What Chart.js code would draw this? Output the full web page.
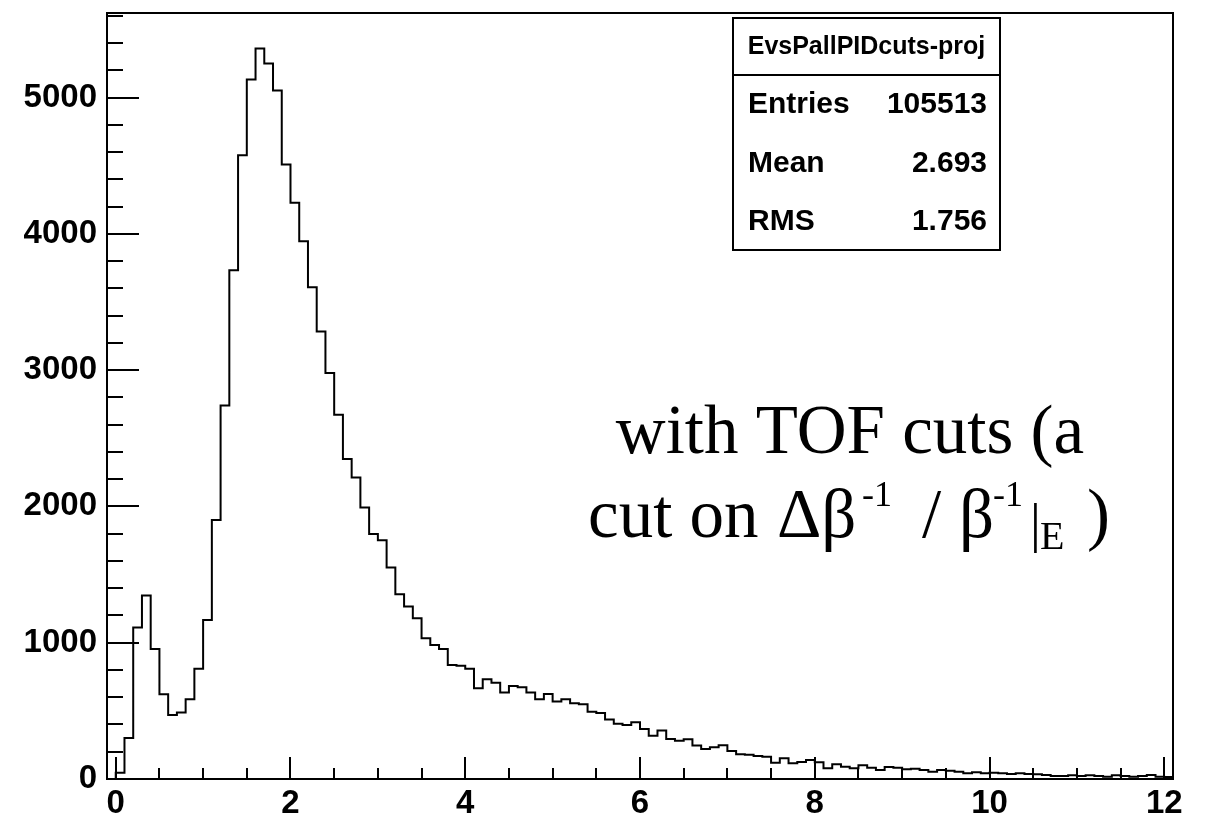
<!DOCTYPE html>
<html>
<head>
<meta charset="utf-8">
<script src="https://cdn.jsdelivr.net/npm/chart.js@4/dist/chart.umd.min.js"></script>
<style>
  html, body { margin: 0; padding: 0; background: #fff; }
  #wrap { width: 1213px; height: 816px; position: relative; }
</style>
</head>
<body>
<div id="wrap"><canvas id="histChart"></canvas></div>
<script>
'use strict';

// histogram: low edge of first bin, bin width, bin contents
var binLow = -0.1;
var binWidth = 0.1;
var counts = [
  0, 46, 300, 1111, 1346, 954, 622, 470, 487, 585,
  808, 1167, 1900, 2740, 3732, 4576, 5132, 5360, 5250, 5051,
  4508, 4227, 3945, 3607, 3284, 2979, 2672, 2347, 2212, 1992,
  1797, 1752, 1551, 1356, 1265, 1180, 1033, 984, 954, 837,
  830, 808, 666, 732, 707, 634, 683, 673, 634, 585,
  624, 568, 585, 556, 548, 494, 485, 436, 405, 396,
  416, 367, 318, 355, 294, 281, 291, 245, 220, 233,
  247, 206, 181, 178, 169, 164, 120, 152, 115, 125,
  139, 123, 79, 108, 90, 79, 101, 83, 66, 88,
  83, 71, 76, 66, 54, 66, 61, 54, 42, 49,
  42, 46, 42, 37, 42, 37, 34, 29, 22, 22,
  27, 22, 27, 22, 17, 27, 22, 17, 22, 29,
  17, 15
];

var xTicks = [0, 2, 4, 6, 8, 10, 12];
var yTicks = [0, 1000, 2000, 3000, 4000, 5000];

var statTitle = 'EvsPallPIDcuts-proj';
var statLabels = ['Entries', 'Mean', 'RMS'];
var statValues = ['105513', '2.693', '1.756'];

var noteLine1 = 'with TOF cuts (a';

// step points: one per bin low edge, plus closing point at the last upper edge
var points = counts.map(function(c, i) {
  return { x: +(binLow + i * binWidth).toFixed(2), y: c };
});
points.push({ x: +(binLow + counts.length * binWidth).toFixed(2), y: counts[counts.length - 1] });

var rootFrame = {
  id: 'rootFrame',
  afterDraw: function(chart) {
    var ctx = chart.ctx;
    var a = chart.chartArea;
    var xs = chart.scales.x;
    var ys = chart.scales.y;
    ctx.save();
    ctx.strokeStyle = '#000';
    ctx.lineWidth = 2;

    // frame
    ctx.strokeRect(a.left, a.top, a.right - a.left, a.bottom - a.top);

    // ticks drawn inward, ROOT style
    ctx.beginPath();
    var v, p;
    for (v = 0; v <= 12.0001; v += 0.5) {
      p = Math.round(xs.getPixelForValue(v));
      var major = Math.abs(v / 2 - Math.round(v / 2)) < 1e-6;
      ctx.moveTo(p, a.bottom);
      ctx.lineTo(p, a.bottom - (major ? 22 : 11));
    }
    for (v = 0; v <= ys.max; v += 200) {
      p = Math.round(ys.getPixelForValue(v));
      var majorY = v % 1000 === 0;
      ctx.moveTo(a.left, p);
      ctx.lineTo(a.left + (majorY ? 32 : 16), p);
    }
    ctx.stroke();

    // stats box
    var bx = 733, by = 18, bw = 267, bh = 232, hh = 57;
    ctx.fillStyle = '#fff';
    ctx.fillRect(bx, by, bw, bh);
    ctx.strokeRect(bx, by, bw, bh);
    ctx.beginPath();
    ctx.moveTo(bx, by + hh);
    ctx.lineTo(bx + bw, by + hh);
    ctx.stroke();

    ctx.fillStyle = '#000';
    ctx.textBaseline = 'middle';
    ctx.textAlign = 'center';
    ctx.font = "bold 25px 'Liberation Sans', Arial, sans-serif";
    ctx.fillText(statTitle, bx + bw / 2, by + hh / 2 + 1);
    ctx.font = "bold 30px 'Liberation Sans', Arial, sans-serif";
    var rowH = (bh - hh) / statLabels.length;
    statLabels.forEach(function(lbl, i) {
      var cy = by + hh + rowH * (i + 0.5) + 1;
      ctx.textAlign = 'left';
      ctx.fillText(lbl, bx + 15, cy);
      ctx.textAlign = 'right';
      ctx.fillText(statValues[i], bx + bw - 13, cy);
    });

    // annotation
    var big = "69px 'Liberation Serif', 'Times New Roman', serif";
    var sup = "36px 'Liberation Serif', 'Times New Roman', serif";
    var sub = "40px 'Liberation Serif', 'Times New Roman', serif";
    ctx.textBaseline = 'alphabetic';
    ctx.textAlign = 'center';
    ctx.font = big;
    ctx.fillText(noteLine1, 850, 453);

    ctx.textAlign = 'left';
    var base = 537;
    var parts = [
      { t: 'cut on', f: big, x: 588, dy: 0 },
      { t: '\u0394\u03b2', f: big, x: 777, dy: 0 },
      { t: '-1', f: sup, x: 862, dy: -31 },
      { t: '/', f: big, x: 922, dy: 0 },
      { t: '\u03b2', f: big, x: 959, dy: 0 },
      { t: '-1', f: sup, x: 993, dy: -31 },
      { t: '|', f: "54px 'Liberation Serif', serif", x: 1030, dy: 4 },
      { t: 'E', f: sub, x: 1040, dy: 12 },
      { t: ')', f: big, x: 1087, dy: 0 }
    ];
    parts.forEach(function(pt) {
      ctx.font = pt.f;
      ctx.fillText(pt.t, pt.x, base + pt.dy);
    });
    ctx.restore();
  }
};

var ctx = document.getElementById('histChart').getContext('2d');
var myChart = new Chart(ctx, {
  type: 'line',
  data: {
    datasets: [{
      data: points,
      stepped: 'before',
      borderColor: '#000',
      borderWidth: 2,
      pointRadius: 0,
      fill: false
    }]
  },
  options: {
    responsive: true,
    maintainAspectRatio: false,
    animation: false,
    events: [],
    layout: { padding: { top: 13, right: 40, left: 0, bottom: 0 } },
    plugins: { legend: { display: false }, tooltip: { enabled: false } },
    scales: {
      x: {
        type: 'linear',
        min: binLow,
        max: binLow + counts.length * binWidth,
        grid: { display: false, drawTicks: false },
        border: { display: false },
        afterBuildTicks: function(scale) {
          scale.ticks = xTicks.map(function(t) { return { value: t }; });
        },
        afterFit: function(scale) {
          scale.height = 37;
          scale.paddingLeft = 0;
          scale.paddingRight = 0;
        },
        ticks: {
          color: '#000',
          padding: 5,
          maxRotation: 0,
          autoSkip: false,
          font: { family: "'Liberation Sans', Arial, sans-serif", size: 33, weight: 'bold' },
          callback: function(v) { return String(v); }
        }
      },
      y: {
        min: 0,
        max: 5620,
        grid: { display: false, drawTicks: false },
        border: { display: false },
        afterBuildTicks: function(scale) {
          scale.ticks = yTicks.map(function(t) { return { value: t }; });
        },
        afterFit: function(scale) {
          scale.width = 107;
          scale.paddingTop = 0;
          scale.paddingBottom = 0;
        },
        ticks: {
          color: '#000',
          padding: 10,
          autoSkip: false,
          font: { family: "'Liberation Sans', Arial, sans-serif", size: 33, weight: 'bold' },
          callback: function(v) { return String(v); }
        }
      }
    }
  },
  plugins: [rootFrame]
});
</script>
</body>
</html>
